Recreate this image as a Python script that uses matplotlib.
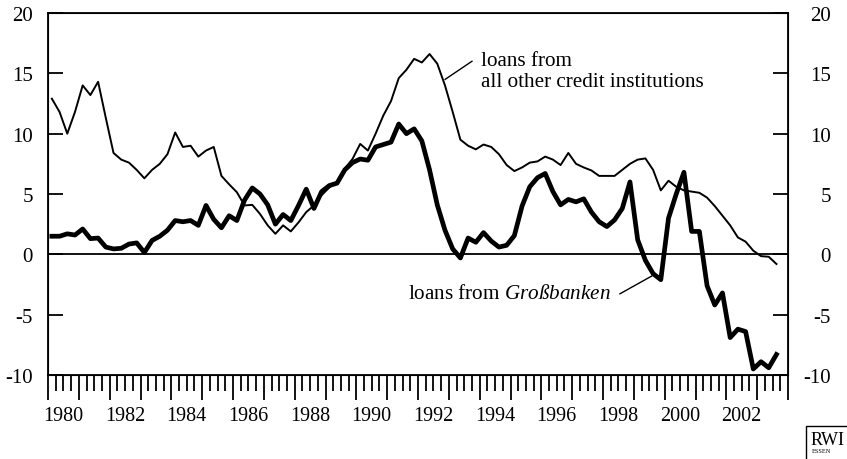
import numpy as np
import matplotlib.pyplot as plt
from matplotlib.patches import Rectangle

plt.rcParams['font.family'] = 'Liberation Serif'
plt.rcParams['axes.unicode_minus'] = False
plt.rcParams['mathtext.fontset'] = 'custom'
plt.rcParams['mathtext.rm'] = 'Liberation Serif'
plt.rcParams['mathtext.it'] = 'Liberation Serif:italic'

# quarterly growth rates, 1980Q1 .. 2003Q3
other = [12.9, 11.8, 10.0, 11.8, 14.0, 13.2, 14.3, 11.3, 8.4, 7.85, 7.6, 7.0, 6.3, 7.0, 7.5, 8.3,
         10.1, 8.9, 9.0, 8.1, 8.6, 8.9, 6.5, 5.8, 5.15, 4.05, 4.1, 3.35, 2.4, 1.7, 2.4, 1.9,
         2.65, 3.5, 4.05, 4.9, 5.55, 6.0, 7.1, 7.9, 9.15, 8.6, 10.0, 11.5, 12.7, 14.6, 15.3, 16.2,
         15.9, 16.6, 15.8, 14.0, 11.8, 9.5, 9.0, 8.7, 9.1, 8.9, 8.3, 7.4, 6.9, 7.2, 7.6, 7.7,
         8.1, 7.85, 7.4, 8.4, 7.5, 7.2, 6.95, 6.5, 6.5, 6.5, 7.0, 7.5, 7.85, 7.95, 7.0, 5.3,
         6.1, 5.6, 5.3, 5.2, 5.1, 4.7, 4.0, 3.2, 2.4, 1.4, 1.05, 0.3, -0.15, -0.2, -0.8]
big = [1.5, 1.5, 1.7, 1.6, 2.1, 1.3, 1.35, 0.6, 0.45, 0.5, 0.85, 0.95, 0.15, 1.15, 1.5, 2.0,
       2.8, 2.7, 2.8, 2.4, 4.05, 2.9, 2.2, 3.2, 2.8, 4.5, 5.5, 5.0, 4.1, 2.5, 3.3, 2.8,
       4.05, 5.4, 3.8, 5.2, 5.7, 5.9, 7.0, 7.6, 7.9, 7.8, 8.9, 9.1, 9.3, 10.8, 10.0, 10.4,
       9.4, 7.0, 4.1, 2.0, 0.45, -0.3, 1.35, 1.0, 1.8, 1.1, 0.6, 0.75, 1.55, 4.0, 5.6, 6.35,
       6.7, 5.2, 4.1, 4.55, 4.35, 4.6, 3.5, 2.7, 2.3, 2.85, 3.8, 6.0, 1.2, -0.5, -1.6, -2.1,
       3.0, 5.0, 6.8, 1.9, 1.9, -2.6, -4.2, -3.2, -6.9, -6.2, -6.4, -9.5, -8.9, -9.4, -8.3]
yticks = [-10, -5, 0, 5, 10, 15, 20]
ylabels = ['-10', '-5', '0', '5', '10', '15', '20']
xlabels = ['1980', '1982', '1984', '1986', '1988', '1990', '1992', '1994', '1996', '1998', '2000', '2002']

t = 1980.125 + np.arange(len(other)) / 4

fig = plt.figure(figsize=(8.47, 4.6), dpi=100)
ax = fig.add_axes([48/847, 1-376/460, 740/847, 362/460])

ax.plot(t, other, color='black', lw=1.4)
ax.plot(t, big, color='black', lw=3.4)
ax.axhline(0, color='black', lw=1.3)
ax.set_xlim(1980, 2004)
ax.set_ylim(-10, 20)
for s in ax.spines.values():
    s.set_linewidth(1.3)

# y axes
ax.set_yticks(yticks, ylabels)
ax.tick_params(axis='y', direction='in', length=11, width=1.3, labelsize=15, pad=11)
tw = ax.twinx()
tw.set_ylim(-10, 20)
tw.set_yticks(yticks, ylabels, ha='right')
tw.tick_params(axis='y', direction='in', length=11, width=1.3, labelsize=15, pad=31)

# x axis: year ticks long, quarter ticks short, labels mid-year
ax.set_xticks(np.arange(1980, 2005))
ax.set_xticks(np.arange(1980, 2004.01, 0.25), minor=True)
ax.tick_params(axis='x', which='major', direction='out', length=18, width=1.3, labelbottom=False)
ax.tick_params(axis='x', which='minor', direction='out', length=11.5, width=1.3)
sec = ax.secondary_xaxis('bottom')
sec.set_xticks([int(y) + 0.5 for y in xlabels], xlabels)
sec.tick_params(length=0, pad=22, labelsize=14.5)
sec.spines['bottom'].set_visible(False)

# annotations
ax.text(1994.05, 15.2, "loans from\nall other credit institutions", fontsize=15.2,
        ha='left', va='center', linespacing=1.2)
ax.plot([1992.88, 1993.75], [14.5, 16.0], color='black', lw=1)
ax.text(1998.25, -3.27, r"loans from $\mathit{Großbanken}$", fontsize=15.2, ha='right', va='center')
ax.plot([1998.55, 1999.58], [-3.27, -1.8], color='black', lw=1)

# logo
fig.add_artist(Rectangle((806/847, -0.1), 0.2, (1 - 427/460) + 0.1, transform=fig.transFigure,
                         fill=False, lw=1, ec='black'))
fig.text(811/847, 1 - 441/460, "RWI", fontsize=13, va='center', ha='left')
fig.text(812/847, 1 - 452/460, "ESSEN", fontsize=4.5, va='center', ha='left')

fig.savefig('out.png', dpi=100)
